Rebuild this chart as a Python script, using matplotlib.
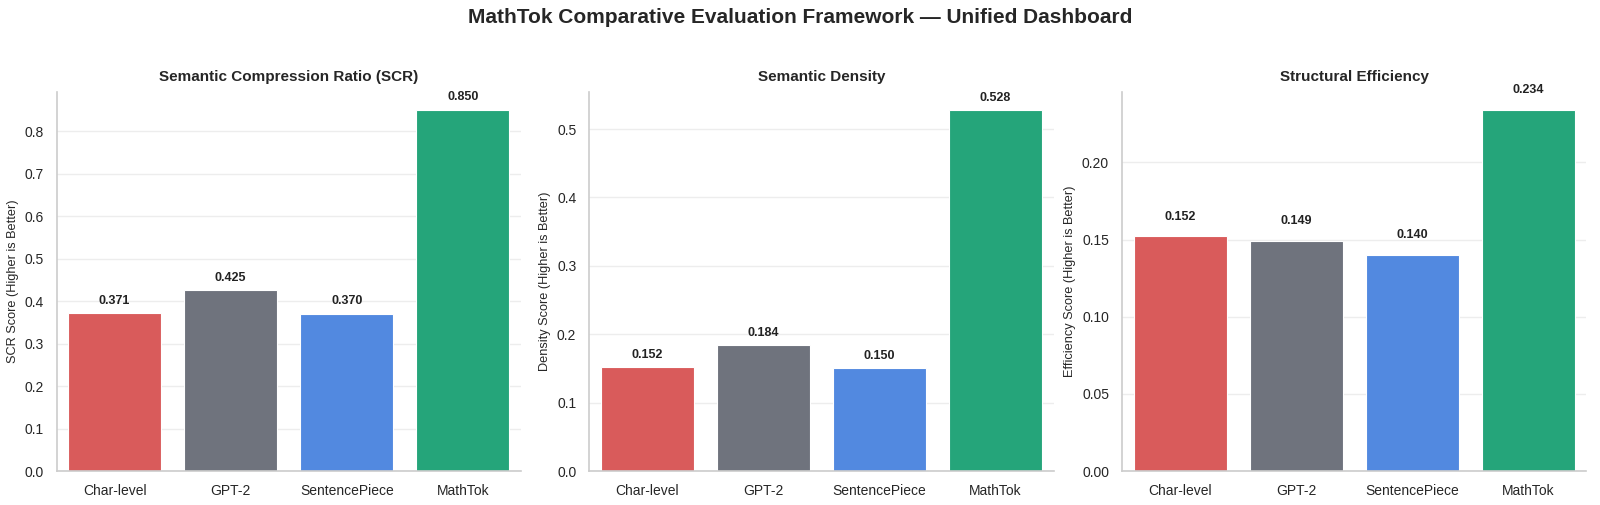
import matplotlib
matplotlib.use("Agg")
import matplotlib.pyplot as plt
import seaborn as sns
import numpy as np

tokenizers = ["Char-level", "GPT-2", "SentencePiece", "MathTok"]
scr_scores = [0.371, 0.425, 0.370, 0.850]
density_scores = [0.152, 0.184, 0.150, 0.528]
efficiency_scores = [0.152, 0.149, 0.140, 0.234]

panel_titles = ["Semantic Compression Ratio (SCR)", "Semantic Density", "Structural Efficiency"]
panel_ylabels = ["SCR Score (Higher is Better)", "Density Score (Higher is Better)",
                 "Efficiency Score (Higher is Better)"]
bar_colors = ["#d95b5b", "#6f737d", "#5289e0", "#25a57a"]
label_offsets = [0.016, 0.009, 0.009]

sns.set_theme(style="whitegrid")
plt.rcParams['font.family'] = ['Liberation Sans', 'DejaVu Sans']

fig, axes = plt.subplots(1, 3, figsize=(16, 5.05), dpi=100)
series = [scr_scores, density_scores, efficiency_scores]

for ax, values, title, ylabel, off in zip(axes, series, panel_titles, panel_ylabels, label_offsets):
    x = np.arange(len(tokenizers))
    ax.bar(x, values, width=0.8, color=bar_colors, edgecolor="white", linewidth=0.8, zorder=2)
    ax.set_xticks(x)
    ax.set_xticklabels(tokenizers, fontsize=10)
    ax.tick_params(axis="y", labelsize=10)
    ax.set_xlim(-0.5, 3.5)
    ax.set_ylim(0, max(values) * 1.05)
    ax.set_title(title, fontsize=11, fontweight="bold", pad=8)
    ax.set_ylabel(ylabel, fontsize=9.2)
    ax.xaxis.grid(False)
    ax.yaxis.grid(True, color="#ededed", linewidth=1)
    ax.set_axisbelow(True)
    for xi, v in zip(x, values):
        ax.text(xi, v + off, f"{v:.3f}", ha="center", va="bottom", fontsize=9, fontweight="bold",
                color="#222222")
    sns.despine(ax=ax)
    for side in ["left", "bottom"]:
        ax.spines[side].set_color("#cccccc")
        ax.spines[side].set_linewidth(1.2)

fig.suptitle("MathTok Comparative Evaluation Framework — Unified Dashboard", fontsize=15,
             fontweight="bold", y=0.985)
fig.subplots_adjust(left=0.0354, right=0.9915, bottom=0.0673, top=0.818, wspace=0.148)
plt.savefig("out.png")
